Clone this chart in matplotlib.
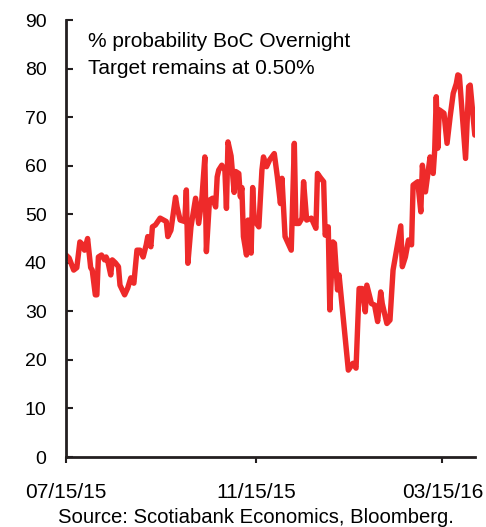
import matplotlib
matplotlib.use("Agg")
import matplotlib.pyplot as plt
import matplotlib.dates as mdates
import pandas as pd

plt.rcParams['font.family'] = ['Liberation Sans', 'DejaVu Sans']

start = "2015-07-15"
day_offsets = [0, 2, 5, 7, 9, 10, 12, 14, 16, 17, 19, 20, 21, 23, 25, 26, 27, 29, 30, 32,
               34, 35, 38, 40, 42, 44, 46, 48, 50, 52, 53, 55, 56, 58, 61, 65, 66, 68, 71, 72,
               74, 77, 78, 79, 81, 84, 86, 88, 90, 91, 93, 95, 97, 98, 99, 101, 103, 104, 105, 107,
               109, 110, 112, 113, 114, 115, 117, 118, 120, 121, 122, 125, 127, 128, 130, 132, 135, 137, 139, 140,
               142, 146, 148, 149, 151, 153, 154, 156, 159, 162, 163, 165, 167, 168, 170, 171, 173, 174, 176, 177,
               183, 186, 188, 190, 192, 194, 195, 198, 200, 202, 204, 205, 208, 210, 212, 215, 217, 218, 220, 222,
               224, 225, 228, 230, 231, 233, 236, 238, 239, 240, 241, 242, 245, 247, 249, 251, 253, 254, 255, 259,
               261, 262, 265]
prob = [41.6, 41.0, 38.5, 39.0, 44.3, 44.0, 42.6, 45.0, 39.0, 38.5, 33.4, 33.4, 41.2, 41.6, 40.6, 41.2, 40.5, 37.5, 40.6, 40.0,
        39.2, 35.4, 33.4, 34.8, 36.9, 35.8, 42.6, 42.6, 41.2, 43.7, 45.4, 43.3, 47.4, 47.8, 49.2, 48.5, 45.4, 46.7, 53.5, 51.5,
        48.8, 48.5, 55.0, 39.9, 47.4, 53.3, 48.1, 52.9, 61.8, 42.3, 52.9, 53.3, 51.5, 57.7, 59.1, 60.1, 59.0, 51.2, 64.9, 62.0,
        54.5, 58.8, 58.4, 53.6, 55.5, 45.4, 41.6, 48.8, 42.0, 55.5, 48.8, 47.4, 59.1, 61.8, 59.8, 61.2, 62.5, 57.7, 52.2, 57.4,
        45.4, 42.6, 64.6, 48.1, 48.1, 49.2, 56.7, 48.8, 49.2, 47.1, 58.4, 57.5, 56.7, 45.7, 47.4, 30.3, 44.3, 44.0, 34.4, 37.5,
        17.9, 19.3, 18.3, 34.7, 34.7, 29.9, 35.4, 31.6, 31.3, 27.9, 34.0, 31.6, 27.5, 28.2, 38.5, 44.0, 47.6, 39.2, 41.2, 44.7,
        43.7, 56.0, 56.7, 50.5, 60.1, 54.6, 61.8, 58.4, 63.2, 74.2, 63.6, 71.5, 70.8, 64.6, 70.1, 74.9, 76.9, 78.7, 78.5, 61.5,
        76.3, 76.6, 66.3]
tick_dates = ["2015-07-15", "2015-11-15", "2016-03-15"]
y_ticks = [0, 10, 20, 30, 40, 50, 60, 70, 80, 90]
label_lines = ["% probability BoC Overnight", "Target remains at 0.50%"]
source = "Source: Scotiabank Economics, Bloomberg."

dates = pd.Timestamp(start) + pd.to_timedelta(day_offsets, unit="D")

fig = plt.figure(figsize=(4.86, 5.27), dpi=100)
ax = fig.add_axes([0.1358, 0.1328, 0.8412, 0.8292])
ax.plot(dates, prob, color="#ee2a2a", lw=3.9, solid_joinstyle="round", solid_capstyle="round")

ax.set_ylim(0, 90)
ax.set_xlim(pd.Timestamp(start), pd.Timestamp(start) + pd.Timedelta(days=265))
ax.set_yticks(y_ticks)
ax.set_xticks(pd.to_datetime(tick_dates))
ax.xaxis.set_major_formatter(mdates.DateFormatter("%m/%d/%y"))

for s in ["top", "right"]:
    ax.spines[s].set_visible(False)
for s in ["left", "bottom"]:
    ax.spines[s].set_linewidth(2.0)
    ax.spines[s].set_color("#231f20")

ax.tick_params(axis="y", direction="in", length=5, width=1.5, color="#231f20", labelsize=14, pad=14)
ax.tick_params(axis="x", direction="out", length=4, width=1.5, color="#231f20", labelsize=15, pad=14.5)

for line, yfrac in zip(label_lines, [0.938, 0.8776]):
    ax.text(0.054, yfrac, line, transform=ax.transAxes, fontsize=15,
            va="baseline", ha="left")
fig.text(0.527, 0.0, source, fontsize=14.6, ha="center", va="bottom")

fig.savefig("out.png", dpi=100)
